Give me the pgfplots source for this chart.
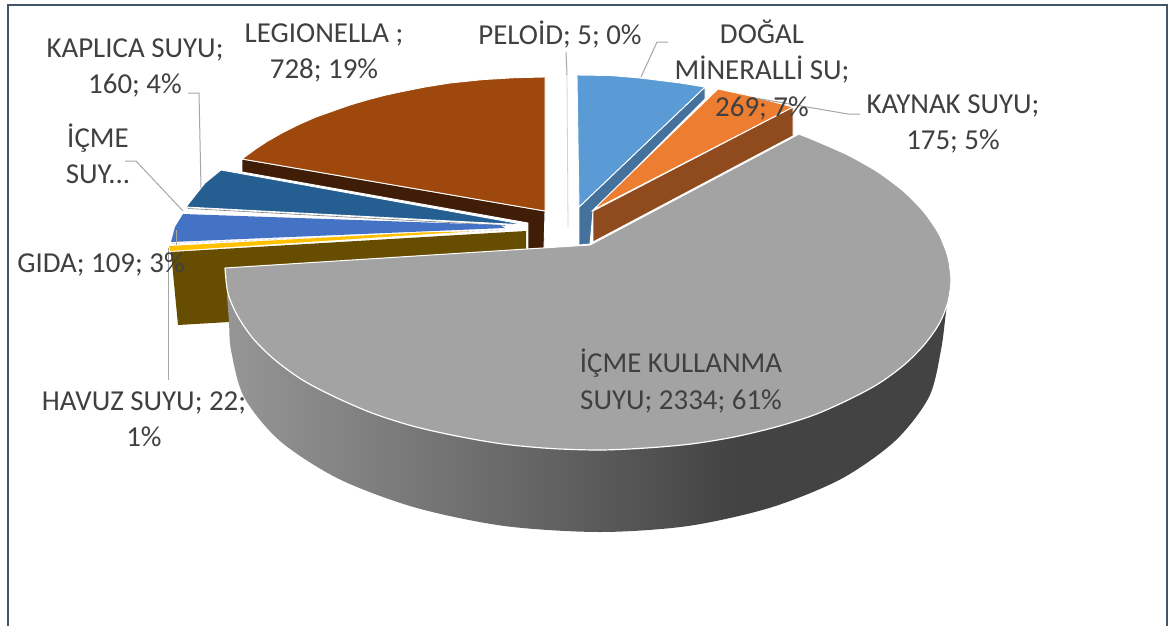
\documentclass[border=0pt]{standalone}
\usepackage{fontspec}
\setmainfont{Carlito}
\usepackage{pgfplots}
\pgfplotsset{compat=1.18}
\definecolor{wa}{HTML}{969696}
\definecolor{wb}{HTML}{5C5C5C}
\definecolor{wc}{HTML}{434343}
\pgfdeclarehorizontalshading{wall}{100bp}{color(0bp)=(wa); color(25bp)=(wa); color(50bp)=(wb); color(60bp)=(wc); color(100bp)=(wc)}
\definecolor{frame}{HTML}{44546A}
\definecolor{txt}{HTML}{404040}
\definecolor{lead}{HTML}{A6A6A6}
\definecolor{gtop}{HTML}{A3A3A3}
\definecolor{ltblue}{HTML}{5B9BD5}
\definecolor{ltblueW}{HTML}{44729D}
\definecolor{orng}{HTML}{ED7D31}
\definecolor{orngW}{HTML}{8F4B1E}
\definecolor{brwn}{HTML}{9E480E}
\definecolor{brwnW}{HTML}{3F1D06}
\definecolor{dkblue}{HTML}{255E91}
\definecolor{midblue}{HTML}{4472C4}
\definecolor{gold}{HTML}{FFC000}
\definecolor{goldW}{HTML}{664D00}
\tikzset{lbl/.style={text=txt,align=center,inner sep=0pt,font=\fontsize{28.9}{36.3}\selectfont}}
\begin{document}
\begin{tikzpicture}
\useasboundingbox (0,0) rectangle (1173pt,625pt);
\begin{axis}[at={(0pt,0pt)},anchor=south west,scale only axis,width=1173pt,height=625pt,
  xmin=0,xmax=1173,ymin=0,ymax=625,y dir=reverse,hide axis,no markers]
% frame
\addplot[draw=frame,line width=1.6pt] coordinates {(8,626)(8,5)(1167,5)(1167,626)};
% legionella wall + top
\addplot[fill=brwnW,draw=white,line width=0.9pt] coordinates {(242,159)(545,211)(544,249)(528,249)(528,223)(242,172)(242,159)};
\addplot[fill=brwn,draw=white,line width=0.9pt] coordinates {(242,159)(255,149.5)(267,141.5)(283,132.4)(300,124)(316,117)(333,111)(350,105)(367,100)(384,95.5)(400,92)(425,87)(450,83)(483,79.6)(515,77.7)(545,77)(545,211)(242,159)};
% kaplica
\addplot[fill=dkblue,draw=white,line width=0.9pt] coordinates {(221,170)(205,183)(186,207)(527,225)(221,170)};
\addplot[draw=black!50,line width=0.6pt] coordinates {(188,208.5)(505,225.5)};
% icme suyu
\addplot[fill=midblue,draw=none] coordinates {(183,214)(175,227)(171,242)(505,228)(500,225)(183,214)};
\addplot[draw=black!18,line width=0.6pt,dashed] coordinates {(172,243.5)(505,230)};
% gida
\addplot[fill=gold,draw=none] coordinates {(169,246)(170,251)(430,234)(470,231.5)(420,232.5)(169,246)};
% havuz wall
\addplot[fill=goldW,draw=none] coordinates {(171,252)(526,231)(526,262)(240,300)(229,322)(178,325)(171,252)};
% dogal mineralli
\addplot[fill=ltblueW,draw=white,line width=0.9pt] coordinates {(705,87)(705,99)(593,211)(590,244)(579,245)(579,207)(705,87)};
\addplot[fill=ltblue,draw=white,line width=0.9pt] coordinates {(577,75)(610,75.5)(640,78)(680,83)(705,87)(579,207)(577,75)};
% kaynak
\addplot[fill=orngW,draw=white,line width=0.9pt] coordinates {(793,107)(793,136)(593,242)(593,211)(793,107)};
\addplot[fill=orng,draw=white,line width=0.9pt] coordinates {(718,89)(755,97)(793,107)(593,210)(718,89)};
% icme kullanma wall
\addplot[shading=wall,draw=none,smooth] coordinates {(227,295)(229,322)(231,350)(244,397)(280,441)(339,479)(415.5,507.6)(504.5,526)(600,532)(688,526)(770.5,507.6)(841,479)(895,441)(929,397)(941,350)(946,312)(950,285)};
% icme kullanma top
\addplot[fill=gtop,draw=none] coordinates {(590,245)(799,134)(814,140)(848,155)(878,172)(904,191.5)(924,212)(939,234)(948,257)(951,280)(948,302)(939,324)(924,345)(904,365)(878,384)(848,400)(814,415)(776,427)(734,437)(691,444)(646,448)(600,450)(551,448.5)(503,444)(456.5,436)(412.5,426)(372,413)(335,397)(302.5,380)(275,360)(253.5,339)(238,316.6)(228,293.5)(225,268)(590,245)};
\addplot[draw=white,line width=1.2pt,smooth] coordinates {(799,134)(814,140)(848,155)(878,172)(904,191.5)(924,212)(939,234)(948,257)(951,280)(948,302)(939,324)(924,345)(904,365)(878,384)(848,400)(814,415)(776,427)(734,437)(691,444)(646,448)(600,450)(551,448.5)(503,444)(456.5,436)(412.5,426)(372,413)(335,397)(302.5,380)(275,360)(253.5,339)(238,316.6)(228,293.5)(225,268)};
\addplot[draw=white,line width=1pt] coordinates {(225,268)(590,245)(799,134)};
% leader lines
\addplot[draw=lead,line width=1pt] coordinates {(566,52)(567,75)};
\addplot[draw=lead!50,line width=0.8pt] coordinates {(567,75)(568,227)};
\addplot[draw=lead,line width=1pt] coordinates {(668,42)(657,42)(641,77)};
\addplot[draw=lead,line width=1pt] coordinates {(860,114)(848,114)(807,107)(755,98)};
\addplot[draw=lead,line width=1pt] coordinates {(188,93)(199,93)(201,188)};
\addplot[draw=lead,line width=1pt] coordinates {(125,161)(136,161)(183,211)};
\addplot[draw=lead,line width=1pt] coordinates {(176,230)(176,245)};
\addplot[draw=lead,line width=1pt] coordinates {(168,248)(168,380)};
% labels
\node[lbl] at (axis cs:324,53) {LEGIONELLA ;\\728; 19\%};
\node[lbl] at (axis cs:135,68) {KAPLICA SUYU;\\160; 4\%};
\node[lbl] at (axis cs:98,154) {İÇME\\SUY...};
\node[lbl] at (axis cs:101,264) {GIDA; 109; 3\%};
\node[lbl] at (axis cs:144,419) {HAVUZ SUYU; 22;\\1\%};
\node[lbl] at (axis cs:560,35) {PELOİD; 5; 0\%};
\node[lbl] at (axis cs:762,70) {DOĞAL\\MİNERALLİ SU;\\269; 7\%};
\node[lbl] at (axis cs:953,124) {KAYNAK SUYU;\\175; 5\%};
\node[lbl] at (axis cs:681,381) {İÇME KULLANMA\\SUYU; 2334; 61\%};
\end{axis}
\end{tikzpicture}
\end{document}
